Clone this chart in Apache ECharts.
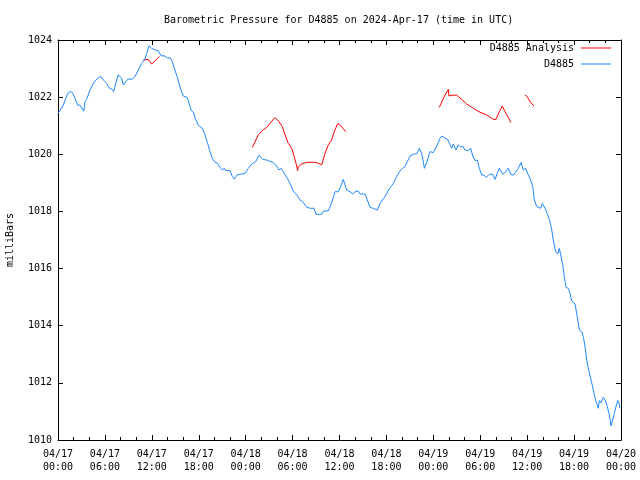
<!DOCTYPE html>
<html>
<head>
<meta charset="utf-8">
<script src="https://cdn.jsdelivr.net/npm/echarts@6/dist/echarts.min.js"></script>
<style>html,body{margin:0;padding:0;background:#fff}#c{width:640px;height:480px}</style>
</head>
<body>
<div id="c"></div>
<script>
// hours after 2024-04-17 00:00 UTC
const xTickLabels = ["04/17\n00:00","04/17\n06:00","04/17\n12:00","04/17\n18:00","04/18\n00:00","04/18\n06:00","04/18\n12:00","04/18\n18:00","04/19\n00:00","04/19\n06:00","04/19\n12:00","04/19\n18:00","04/20\n00:00"];

const stationHours = [0.0,0.68,1.24,1.53,1.83,2.17,2.52,2.81,3.03,3.29,3.45,3.67,4.09,4.64,5.08,5.50,5.79,6.23,6.52,6.87,7.12,7.38,7.71,7.93,8.15,8.35,8.66,8.91,9.50,9.85,10.27,10.70,11.13,11.34,11.64,11.98,12.41,12.83,13.17,13.68,14.03,14.32,14.62,14.87,15.31,15.64,16.02,16.46,16.66,17.01,17.30,17.61,17.94,18.45,18.80,19.14,19.44,19.73,19.99,20.42,20.72,21.01,21.27,21.45,22.00,22.29,22.55,22.85,23.28,23.92,24.34,24.85,25.28,25.71,25.96,26.18,26.69,26.90,27.53,27.97,28.26,28.52,28.81,29.32,29.67,30.02,30.31,30.60,30.95,31.29,31.59,31.81,32.01,32.32,32.74,33.00,33.72,33.93,34.57,34.88,35.21,35.43,35.85,36.15,36.49,36.70,36.92,37.34,37.69,38.11,38.41,38.62,39.26,39.56,39.90,40.32,40.84,41.18,41.82,42.37,42.88,43.32,43.65,44.08,44.38,44.67,45.02,45.44,45.87,46.21,46.51,46.72,46.85,47.15,47.57,48.00,48.21,48.51,48.85,49.11,49.49,49.84,50.13,50.35,50.55,50.90,51.19,51.50,51.76,52.05,52.47,52.78,53.04,53.33,53.62,53.88,54.19,54.48,54.74,54.90,55.16,55.59,55.89,56.18,56.44,56.87,57.17,57.59,57.90,58.23,58.45,58.87,59.21,59.51,59.81,60.15,60.45,60.71,60.92,61.22,61.73,61.94,62.28,62.63,62.92,63.14,63.34,63.65,63.91,64.11,64.29,64.55,64.75,64.97,65.26,65.48,65.70,66.12,66.41,66.67,66.98,67.18,67.40,67.62,67.91,68.17,68.46,68.68,68.89,69.10,69.23,69.44,69.74,69.96,70.25,70.51,70.72,70.94,71.15,71.36,71.58,71.75,71.87];
const stationPressure = [1021.43,1021.72,1022.13,1022.19,1022.17,1021.96,1021.72,1021.72,1021.78,1021.51,1021.84,1021.93,1022.25,1022.54,1022.66,1022.72,1022.60,1022.48,1022.33,1022.28,1022.19,1022.48,1022.78,1022.80,1022.66,1022.43,1022.54,1022.63,1022.63,1022.72,1022.95,1023.18,1023.33,1023.53,1023.80,1023.71,1023.65,1023.63,1023.45,1023.44,1023.36,1023.38,1023.24,1023.01,1022.66,1022.31,1022.04,1022.00,1021.88,1021.55,1021.48,1021.22,1021.02,1020.91,1020.68,1020.38,1020.09,1019.86,1019.74,1019.68,1019.54,1019.45,1019.51,1019.43,1019.43,1019.22,1019.13,1019.27,1019.30,1019.33,1019.51,1019.68,1019.74,1019.97,1019.92,1019.82,1019.80,1019.74,1019.71,1019.59,1019.45,1019.51,1019.39,1019.16,1018.98,1018.75,1018.63,1018.57,1018.40,1018.34,1018.22,1018.14,1018.14,1018.11,1018.11,1017.90,1017.90,1018.01,1018.02,1018.22,1018.49,1018.69,1018.69,1018.87,1019.12,1018.93,1018.75,1018.69,1018.61,1018.71,1018.71,1018.61,1018.61,1018.40,1018.14,1018.11,1018.05,1018.28,1018.52,1018.79,1018.98,1019.22,1019.39,1019.51,1019.57,1019.74,1019.94,1020.01,1020.01,1020.21,1020.03,1019.74,1019.51,1019.71,1020.09,1020.06,1020.06,1020.33,1020.56,1020.64,1020.56,1020.52,1020.33,1020.21,1020.36,1020.15,1020.33,1020.25,1020.29,1020.15,1020.13,1020.21,1019.94,1019.78,1019.80,1019.51,1019.27,1019.27,1019.19,1019.12,1019.30,1019.30,1019.12,1019.33,1019.51,1019.30,1019.36,1019.51,1019.30,1019.27,1019.24,1019.51,1019.71,1019.45,1019.51,1019.27,1019.10,1018.87,1018.40,1018.17,1018.11,1018.28,1018.11,1017.88,1017.64,1017.35,1017.00,1016.59,1016.51,1016.71,1016.48,1016.13,1015.72,1015.34,1015.31,1015.13,1014.87,1014.76,1014.32,1013.85,1013.79,1013.62,1013.27,1012.80,1012.39,1012.10,1011.75,1011.46,1011.29,1011.11,1011.38,1011.30,1011.49,1011.40,1011.17,1010.88,1010.49,1010.70,1010.93,1011.17,1011.38,1011.30,1011.11];

// analysis series: null separates the segments
const analysisHours = [10.91,11.55,11.98,12.96, 18.0, 24.85,25.62,26.13,26.69,27.11,27.75,28.26,28.69,28.90,29.45,29.89,30.09,30.44,30.65,30.73,31.17,31.81,33.00,33.72,34.15,34.57,35.00,35.33,35.77,36.28,36.79, 42.0, 48.76,49.40,49.92,50.00,50.48,50.99,51.63,52.27,53.11,53.97,54.83,55.67,56.01,56.44,56.82,57.17,57.59,57.90, 59.0, 59.72,60.01,60.36,60.87];
const analysisPressure = [1023.30,1023.32,1023.16,1023.42, null, 1020.24,1020.68,1020.83,1020.94,1021.08,1021.29,1021.14,1020.97,1020.79,1020.38,1020.21,1020.03,1019.68,1019.43,1019.57,1019.66,1019.72,1019.72,1019.63,1020.03,1020.33,1020.50,1020.79,1021.08,1020.97,1020.79, null, 1021.64,1022.02,1022.27,1022.04,1022.07,1022.07,1021.92,1021.76,1021.61,1021.47,1021.38,1021.22,1021.22,1021.49,1021.69,1021.49,1021.29,1021.11, null, 1022.07,1022.02,1021.84,1021.69];

const FONT = '"DejaVu Sans Mono", "Liberation Mono", monospace';
const chart = echarts.init(document.getElementById('c'), null, {renderer: 'canvas'});

const xCommon = {
  type: 'value', min: 0, max: 72, interval: 6,
  axisLine: {show: true, onZero: false, lineStyle: {color: '#000', width: 1}},
  axisTick: {show: true, inside: true, length: 5, lineStyle: {color: '#000'}},
  minorTick: {show: true, splitNumber: 3, length: 3, lineStyle: {color: '#000'}},
  splitLine: {show: false}
};
const yCommon = {
  type: 'value', min: 1010, max: 1024, interval: 2,
  axisLine: {show: true, onZero: false, lineStyle: {color: '#000', width: 1}},
  axisTick: {show: true, inside: true, length: 5, lineStyle: {color: '#000'}},
  splitLine: {show: false}
};

chart.setOption({
  animation: false,
  backgroundColor: '#fff',
  grid: {left: 58, right: 19, top: 40, bottom: 40, containLabel: false, outerBoundsMode: 'none'},
  graphic: [{
    type: 'text', left: 164, top: 15,
    style: {text: 'Barometric Pressure for D4885 on 2024-Apr-17 (time in UTC)', font: '10px ' + FONT, fill: '#000'}
  }],
  legend: {
    orient: 'vertical', right: 29, top: 42, padding: 0,
    align: 'right', icon: 'rect', itemWidth: 30, itemHeight: 1, itemGap: 4,
    textStyle: {fontFamily: FONT, fontSize: 10, color: '#000', lineHeight: 12, padding: [0, 2, 0, 0]},
    data: ['D4885 Analysis', 'D4885']
  },
  xAxis: [
    Object.assign({}, xCommon, {
      position: 'bottom',
      axisLabel: {show: true, margin: 8, fontFamily: FONT, fontSize: 10, color: '#000', lineHeight: 13,
        formatter: v => xTickLabels[Math.round(v / 6)] || ''}
    }),
    Object.assign({}, xCommon, {position: 'top', axisLabel: {show: false}})
  ],
  yAxis: [
    Object.assign({}, yCommon, {
      position: 'left',
      name: 'milliBars', nameLocation: 'middle', nameGap: 43,
      nameTextStyle: {fontFamily: FONT, fontSize: 10, color: '#000'},
      axisLabel: {show: true, margin: 6, fontFamily: FONT, fontSize: 10, color: '#000', formatter: v => String(v)}
    }),
    Object.assign({}, yCommon, {position: 'right', axisLabel: {show: false}})
  ],
  series: [
    {
      name: 'D4885 Analysis', type: 'line', xAxisIndex: 0, yAxisIndex: 0,
      symbol: 'none', connectNulls: false,
      lineStyle: {color: '#ff0000', width: 1}, itemStyle: {color: '#ff0000'},
      data: analysisHours.map((h, i) => [h, analysisPressure[i] === null ? '-' : analysisPressure[i]])
    },
    {
      name: 'D4885', type: 'line', xAxisIndex: 0, yAxisIndex: 0,
      symbol: 'none',
      lineStyle: {color: '#1e88ff', width: 1}, itemStyle: {color: '#1e88ff'},
      data: stationHours.map((h, i) => [h, stationPressure[i]])
    }
  ]
});
</script>
</body>
</html>
